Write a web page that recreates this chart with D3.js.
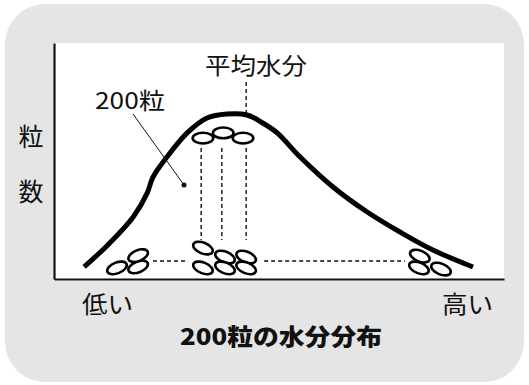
<!DOCTYPE html>
<html>
<head>
<meta charset="utf-8">
<script src="https://d3js.org/d3.v7.min.js"></script>
<style>
  body { margin: 0; background: #fff; }
  text { font-family: "Noto Sans CJK JP", sans-serif; fill: #111; }
</style>
</head>
<body>
<div id="chart"></div>
<script>
// distribution curve of 200 grains (moisture -> grain count)
const curveX = [6.7, 12.4, 17.6, 20.7, 22.0, 25.1, 29.6, 34.0, 38.4, 42.9, 46.4, 49.6, 54.7, 62.0, 69.6, 76.9, 84.2, 93.1];
const curveY = [5.1, 15.3, 26.3, 36.4, 43.2, 51.7, 61.9, 68.2, 69.9, 69.5, 66.1, 61.9, 51.7, 39.0, 28.4, 19.9, 12.3, 5.1];

// grains drawn as small ellipses
const grainX = [33.1, 37.6, 42.0, 14.0, 18.7, 18.7, 33.1, 33.1, 38.0, 38.0, 42.7, 42.7, 81.3, 81.1, 86.0];
const grainY = [59.7, 61.9, 59.7, 4.7, 5.1, 9.9, 13.1, 4.7, 9.3, 4.7, 9.3, 4.7, 9.7, 4.7, 4.2];
const grainTilt = [0, 0, 0, -22, -22, -22, 22, 22, 22, 22, 22, 22, 22, 22, 22];

// dashed guides
const meanX = 42.7;
const meanTop = 83.5, meanBottom = 69.5;
const guideX = [32.7, 37.3, 42.7];
const guideTop = 55.5, guideBottom = 16.5;
const baseY = 7.6;
const baseSegments = [[22.0, 29.8], [46.7, 78.0]];

const labels = {
  y: ["粒", "数"],
  low: "低い",
  high: "高い",
  title: "200粒の水分分布",
  mean: "平均水分",
  sample: "200粒"
};

const W = 529, H = 385;
const svg = d3.select("#chart").append("svg")
  .attr("width", W).attr("height", H);

svg.append("rect").attr("x", 5).attr("y", 4).attr("width", 519).attr("height", 378)
  .attr("rx", 40).attr("fill", "#e5e5e5");
svg.append("rect").attr("x", 53).attr("y", 43).attr("width", 451).attr("height", 238)
  .attr("fill", "#fff");

const x = d3.scaleLinear().domain([0, 100]).range([54, 504]);
const y = d3.scaleLinear().domain([0, 100]).range([279, 43]);

// axes (no ticks)
svg.append("g").attr("transform", `translate(0,${y(0)})`)
  .call(d3.axisBottom(x).tickValues([]).tickSizeOuter(0))
  .call(g => g.select(".domain").attr("stroke", "#111").attr("stroke-width", 2.2));
svg.append("g").attr("transform", `translate(${x(0)},0)`)
  .call(d3.axisLeft(y).tickValues([]).tickSizeOuter(0))
  .call(g => g.select(".domain").attr("stroke", "#111").attr("stroke-width", 2.2));

// dashed guide lines
const dash = "4,3";
svg.append("line")
  .attr("x1", x(meanX)).attr("x2", x(meanX))
  .attr("y1", y(meanTop)).attr("y2", y(meanBottom))
  .attr("stroke", "#111").attr("stroke-width", 1.4).attr("stroke-dasharray", dash);
svg.selectAll(".guide").data(guideX).join("line")
  .attr("x1", d => x(d)).attr("x2", d => x(d))
  .attr("y1", y(guideTop)).attr("y2", y(guideBottom))
  .attr("stroke", "#111").attr("stroke-width", 1.4).attr("stroke-dasharray", dash);
svg.selectAll(".base").data(baseSegments).join("line")
  .attr("x1", d => x(d[0])).attr("x2", d => x(d[1]))
  .attr("y1", y(baseY)).attr("y2", y(baseY))
  .attr("stroke", "#111").attr("stroke-width", 1.4).attr("stroke-dasharray", dash);

// curve
const pts = curveX.map((v, i) => [v, curveY[i]]);
svg.append("path").datum(pts)
  .attr("fill", "none").attr("stroke", "#000").attr("stroke-width", 5)
  .attr("d", d3.line().x(d => x(d[0])).y(d => y(d[1])).curve(d3.curveCatmullRom));

// grains
svg.selectAll(".grain").data(grainX.map((v, i) => i)).join("ellipse")
  .attr("transform", i => `translate(${x(grainX[i])},${y(grainY[i])}) rotate(${grainTilt[i]})`)
  .attr("rx", 10.3).attr("ry", 5.4)
  .attr("fill", "#fff").attr("stroke", "#000").attr("stroke-width", 2.6);

// leader line for "200粒"
svg.append("line")
  .attr("x1", 133).attr("y1", 114).attr("x2", 184).attr("y2", 185)
  .attr("stroke", "#111").attr("stroke-width", 1);
svg.append("circle").attr("cx", 184).attr("cy", 185).attr("r", 2.5).attr("fill", "#111");

// texts
svg.append("text").attr("x", 205).attr("y", 74).attr("font-size", 23)
  .attr("textLength", 102).attr("lengthAdjust", "spacingAndGlyphs").text(labels.mean);
svg.append("text").attr("x", 95).attr("y", 109).attr("font-size", 23)
  .attr("textLength", 70).attr("lengthAdjust", "spacingAndGlyphs").text(labels.sample);
svg.selectAll(".ylab").data(labels.y).join("text")
  .attr("x", 31).attr("y", (d, i) => 146 + i * 55)
  .attr("text-anchor", "middle").attr("font-size", 25).text(d => d);
svg.append("text").attr("x", 82).attr("y", 313).attr("font-size", 24)
  .attr("textLength", 51).attr("lengthAdjust", "spacingAndGlyphs").text(labels.low);
svg.append("text").attr("x", 442).attr("y", 313).attr("font-size", 24)
  .attr("textLength", 51).attr("lengthAdjust", "spacingAndGlyphs").text(labels.high);
svg.append("text").attr("x", 180).attr("y", 345).attr("font-size", 23).attr("font-weight", 900)
  .attr("textLength", 202).attr("lengthAdjust", "spacingAndGlyphs").text(labels.title);
</script>
</body>
</html>
